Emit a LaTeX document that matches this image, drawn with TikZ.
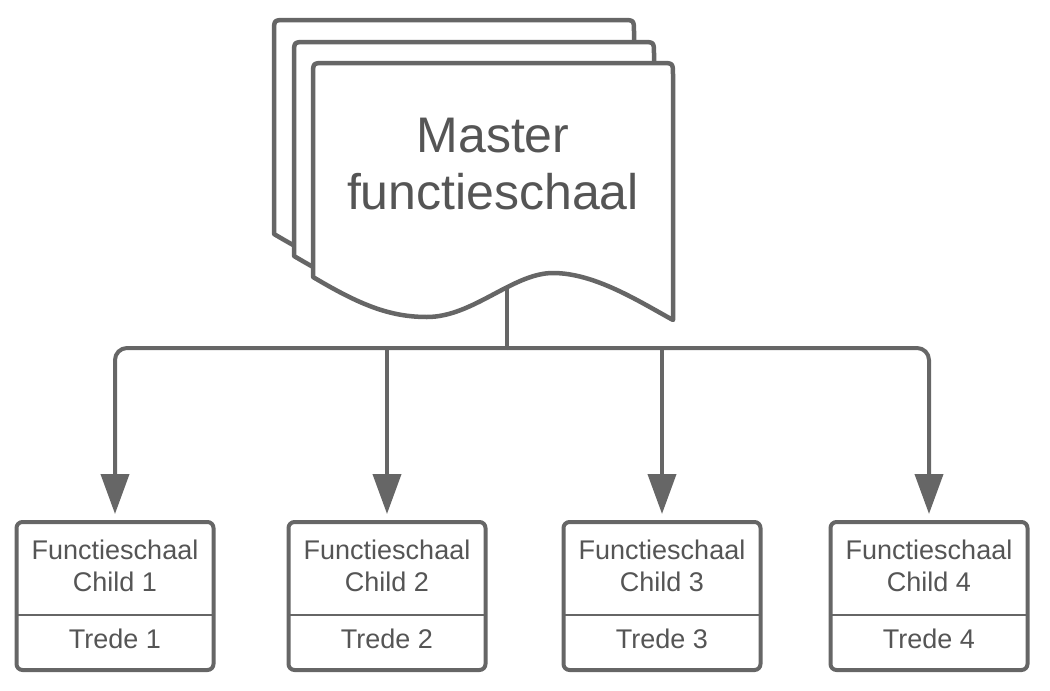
\documentclass[tikz,border=0pt]{standalone}
\usepackage{fontspec}
\setmainfont{Liberation Sans}
\usetikzlibrary{positioning,arrows.meta}
\definecolor{linegray}{HTML}{666666}
\definecolor{txtgray}{HTML}{555555}
\newcommand{\docsheet}[1]{%
  \path[sheet,shift={#1}] (0,214) -- (0,12) .. controls (0,0) .. (12,0) -- (348,0)
    .. controls (360,0) .. (360,12) -- (360,257)
    .. controls (327,239) and (282,210) .. (240,210)
    .. controls (200,210) and (160,254) .. (114,254)
    .. controls (77,254) and (47,242) .. (0,214) -- cycle;}

\begin{document}
\begin{tikzpicture}[x=1pt,y=-1pt,node distance=75pt,every node/.style={text=txtgray,outer sep=0pt,inner sep=0pt}]
\tikzset{sheet/.style={draw=linegray,line width=4.5pt,fill=white,line join=round}}
\tikzset{cbox/.style={draw=linegray,line width=4pt,fill=white,rounded corners=6pt,minimum width=197pt,minimum height=148pt}}
\tikzset{link/.style={draw=linegray,line width=4pt,-{Triangle[length=40pt,width=28pt]},shorten >=8pt,rounded corners=12pt}}
\tikzset{ctext/.style={font=\fontsize{27}{32}\selectfont,align=center}}
\tikzset{divider/.style={draw=linegray,line width=1.5pt}}

\useasboundingbox (0,0) rectangle (1050,691);

% master stack
\coordinate (M0) at (507,280);
\coordinate (bus) at (507,348);
\draw[linegray,line width=4pt] (M0) -- (bus);
\docsheet{(274,20)}
\docsheet{(294,42)}
\docsheet{(313,63)}
\node (M) [font=\fontsize{50}{57}\selectfont,align=center] at (493,164) {Master\\functieschaal};

% children
\node (C1) [cbox] at (115,596) {};
\node (C2) [cbox,right=of C1] {};
\node (C3) [cbox,right=of C2,xshift=3pt] {};
\node (C4) [cbox,right=of C3,xshift=-5pt] {};

\node (C1T) [ctext] at ([yshift=-44pt]C1.north) {Functieschaal\\Child 1};
\node (C1S) [ctext] at ([yshift=-117pt]C1.north) {Trede 1};
\draw[divider] ([yshift=-93pt]C1.north west) -- ([yshift=-93pt]C1.north east);

\node (C2T) [ctext] at ([yshift=-44pt]C2.north) {Functieschaal\\Child 2};
\node (C2S) [ctext] at ([yshift=-117pt]C2.north) {Trede 2};
\draw[divider] ([yshift=-93pt]C2.north west) -- ([yshift=-93pt]C2.north east);

\node (C3T) [ctext] at ([yshift=-44pt]C3.north) {Functieschaal\\Child 3};
\node (C3S) [ctext] at ([yshift=-117pt]C3.north) {Trede 3};
\draw[divider] ([yshift=-93pt]C3.north west) -- ([yshift=-93pt]C3.north east);

\node (C4T) [ctext] at ([yshift=-44pt]C4.north) {Functieschaal\\Child 4};
\node (C4S) [ctext] at ([yshift=-117pt]C4.north) {Trede 4};
\draw[divider] ([yshift=-93pt]C4.north west) -- ([yshift=-93pt]C4.north east);

% links
\draw[link] (bus) -| (C1.north);
\draw[link] (bus) -| (C4.north);
\draw[link] (C2.north |- bus) -- (C2.north);
\draw[link] (C3.north |- bus) -- (C3.north);
\end{tikzpicture}
\end{document}
